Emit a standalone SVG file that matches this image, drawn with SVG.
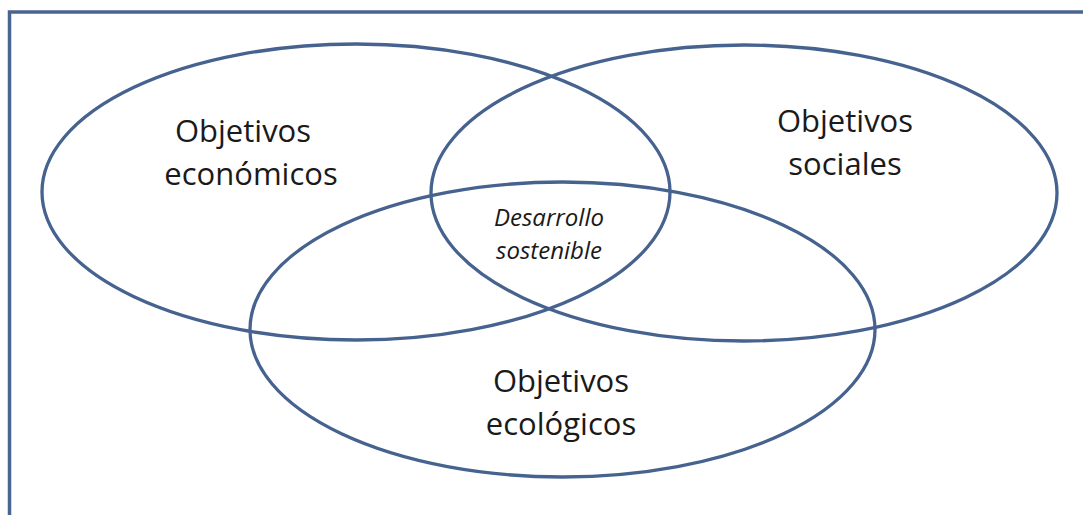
<svg xmlns="http://www.w3.org/2000/svg" width="1083" height="515" viewBox="0 0 1083 515">
<style>
.ring{fill:none;stroke:#46628f;stroke-width:3.3}
.lbl{font-family:"Open Sans","Liberation Sans",sans-serif;font-size:31px;fill:#1a1a1a;text-anchor:middle}
.core{font-family:"Open Sans","Liberation Sans",sans-serif;font-size:24px;font-style:italic;fill:#1a1a1a;text-anchor:middle}
</style>
<rect x="0" y="0" width="1083" height="515" fill="#ffffff"/>
<rect x="9.5" y="12" width="1100" height="540" fill="none" stroke="#4a6590" stroke-width="3.5"/>
<g id="economicos">
<ellipse class="ring" cx="356" cy="192" rx="314" ry="148"/>
<text class="lbl" x="243" y="142">Objetivos</text>
<text class="lbl" x="251" y="185">económicos</text>
</g>
<g id="sociales">
<ellipse class="ring" cx="744" cy="193" rx="313" ry="148"/>
<text class="lbl" x="845" y="132">Objetivos</text>
<text class="lbl" x="845" y="175">sociales</text>
</g>
<g id="ecologicos">
<ellipse class="ring" cx="562.5" cy="329.5" rx="312.5" ry="147.5"/>
<text class="lbl" x="561" y="392">Objetivos</text>
<text class="lbl" x="561" y="435">ecológicos</text>
</g>
<g id="desarrollo">
<text class="core" x="549" y="226">Desarrollo</text>
<text class="core" x="549" y="259">sostenible</text>
</g>
<g id="connectors"></g>
</svg>
